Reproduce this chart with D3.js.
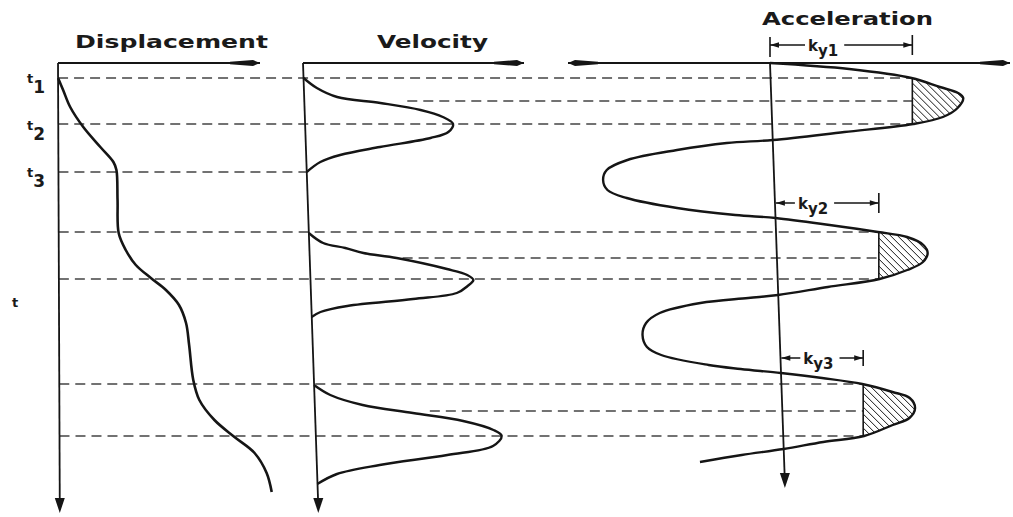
<!DOCTYPE html>
<html>
<head>
<meta charset="utf-8">
<script src="https://cdn.jsdelivr.net/npm/d3@7"></script>
<style>
body{margin:0;background:#fff}
svg{display:block}
text{font-family:"DejaVu Sans",sans-serif;font-weight:bold;fill:#1a1a1a}
</style>
</head>
<body>
<div id="chart"></div>
<script>
// time runs downwards, t = 0 on the top axis line
var dispT = [15,27,44,64,84,99,107,137,170,187,202,215,227,242,260,282,317,337,357,374,390,410,429]
var dispV = [0,5,12,25,42,55,58,59,60,67,77,92,107,120,127,130,134,140,155,175,195,207,212]

var velPulse = [1,1,1,1,1,1,1,1,1,1,1,1,1, 2,2,2,2,2,2,2,2,2,2,2,2,2,2, 3,3,3,3,3,3,3,3,3,3,3,3]
var velT = [15,25,34,40,47,54,61,69,75,84,92,99,109,
            170,180,185,190,195,206,212,217,223,230,236,243,249,254,
            322,332,342,350,358,367,373,383,392,402,411,421]
var velV = [0,13,33,76,116,138,148,143,125,74,34,14,0,
            0,14,36,54,87,137,157,163,157,146,102,36,9,0,
            0,16,48,98,148,178,186,177,131,63,20,0]

var accT = [0,6,15,24,30,35,45,54,61,69,77,80,87,97,107,117,127,135,145,152,155,162,169,174,182,190,199,207,216,224,232,235,240,250,260,272,284,292,302,306,310,315,321,329,335,345,355,362,373,379,386,392,399]
var accV = [0,79,141,169,187,192,186,171,141,72,0,-46,-96,-146,-167,-171,-167,-148,-98,-40,0,54,102,131,147,151,146,130,102,50,0,-30,-78,-119,-133,-137,-133,-119,-72,-40,0,41,81,111,128,133,127,110,81,40,0,-42,-84]

// dashed guide lines
var guideT = [15,38,61,109,169,195,216,321,348,373]
var guideFromVel = [null,103,null,null,null,93,null,null,115,null]
var guideLobe = [0,0,0,-1,1,1,1,2,2,2]

// hatched lobes beyond k_y
var lobeStart = [0,155,310]
var lobeEnd = [77,232,386]
var lobeMidT = [38,195,348]
var lobeHatch = [141,102,81]
var kyT = [-18,140,295]
var kySub = ["y1","y2","y3"]

var tLabelT = [15,62,109,239]
var tLabelSub = ["1","2","3",""]

var W = 1013, H = 517
var svg = d3.select("#chart").append("svg").attr("width",W).attr("height",H)

var y = d3.scaleLinear().domain([0,450]).range([63,513])
var xv = d3.scaleLinear().domain([-200,200]).range([-200,200])

var disp = {x0:58, lean:0.004}
var vel = {x0:303, lean:0.034}
var acc = {x0:770, lean:0.035}
function axisX(p,t){ return p.x0 + p.lean*t }
function hatchX(l){ return axisX(acc,lobeMidT[l]) + xv(lobeHatch[l]) }

var ink = "#151515"
var smooth = d3.curveCatmullRom.alpha(0.5)

function pts(ts,vs){ return ts.map(function(t,i){ return {t:t, v:vs[i]} }) }
function lineFor(p){
    return d3.line().curve(smooth)
        .x(function(d){ return axisX(p,d.t)+xv(d.v) })
        .y(function(d){ return y(d.t) })
}

// guides
var guides = svg.append("g")
for(var i in guideT){
    var t = guideT[i]
    var x1 = guideFromVel[i]==null ? axisX(disp,t) : axisX(vel,t)+xv(guideFromVel[i])
    var x2 = guideLobe[i] < 0 ? axisX(vel,t) : hatchX(guideLobe[i])
    guides.append("line").attr("x1",x1).attr("x2",x2).attr("y1",y(t)).attr("y2",y(t))
        .attr("stroke","#444").attr("stroke-width",1.4).attr("stroke-dasharray","10 6")
}

// hatching
var defs = svg.append("defs")
var accArea = d3.area().curve(smooth)
    .y(function(d){ return y(d.t) })
    .x0(function(d){ return axisX(acc,d.t) })
    .x1(function(d){ return axisX(acc,d.t)+xv(d.v) })
defs.append("clipPath").attr("id","accClip").append("path").attr("d",accArea(pts(accT,accV)))
for(var l=0;l<lobeHatch.length;l++){
    var hx = hatchX(l)
    var yTop = y(lobeStart[l]), yBot = y(lobeEnd[l])
    defs.append("clipPath").attr("id","lobe"+l).append("rect")
        .attr("x",hx).attr("y",yTop).attr("width",W-hx).attr("height",yBot-yTop)
    var g = svg.append("g").attr("clip-path","url(#lobe"+l+")")
        .append("g").attr("clip-path","url(#accClip)")
    for(var o=-90;o<120;o+=7){
        g.append("line").attr("x1",hx+o).attr("y1",yTop).attr("x2",hx+o+(yBot-yTop)).attr("y2",yBot)
            .attr("stroke",ink).attr("stroke-width",1)
    }
    // vertical edge of hatch
    var ia = guideLobe.indexOf(l), ib = guideLobe.lastIndexOf(l)
    svg.append("line").attr("x1",hx).attr("x2",hx).attr("y1",y(guideT[ia])).attr("y2",y(guideT[ib]))
        .attr("stroke",ink).attr("stroke-width",1.6)
}

// axes
function vArrow(p,tEnd){
    var xt = axisX(p,tEnd), yt = y(tEnd)
    svg.append("line").attr("x1",axisX(p,0)).attr("y1",y(0)).attr("x2",xt).attr("y2",yt-6)
        .attr("stroke",ink).attr("stroke-width",1.8)
    svg.append("path").attr("d","M"+xt+","+yt+"L"+(xt-5)+","+(yt-15)+"L"+(xt+5)+","+(yt-15)+"Z").attr("fill",ink)
}
function hHead(xt,yt,dir){
    var b = xt-dir*30, m = xt-dir*7
    return "M"+xt+","+yt+"L"+m+","+(yt-3)+"L"+b+","+(yt-1.3)+"L"+b+","+(yt+1.3)+"L"+m+","+(yt+3)+"Z"
}
function hArrow(xa,xb,both){
    svg.append("line").attr("x1",xa).attr("x2",xb).attr("y1",y(0)).attr("y2",y(0)).attr("stroke",ink).attr("stroke-width",1.8)
    svg.append("path").attr("d",hHead(xb,y(0),1)).attr("fill",ink)
    if(both) svg.append("path").attr("d",hHead(xa,y(0),-1)).attr("fill",ink)
}
vArrow(disp,450)
vArrow(vel,450)
vArrow(acc,425)
hArrow(axisX(disp,0),260,false)
hArrow(axisX(vel,0),524,false)
hArrow(568,1010,true)

// curves
svg.append("path").attr("d",lineFor(disp)(pts(dispT,dispV)))
    .attr("fill","none").attr("stroke",ink).attr("stroke-width",2.6)
var pulses = d3.groups(pts(velT,velV).map(function(d,i){ d.p = velPulse[i]; return d }), function(d){ return d.p })
pulses.forEach(function(pl){
    svg.append("path").attr("d",lineFor(vel)(pl[1]))
        .attr("fill","none").attr("stroke",ink).attr("stroke-width",2.4)
})
svg.append("path").attr("d",lineFor(acc)(pts(accT,accV)))
    .attr("fill","none").attr("stroke",ink).attr("stroke-width",2.4)

// k_y dimension marks
function smallHead(xt,yt,dir){
    return "M"+xt+","+yt+"L"+(xt-dir*9)+","+(yt-2.8)+"L"+(xt-dir*9)+","+(yt+2.8)+"Z"
}
for(var k=0;k<kyT.length;k++){
    var yk = y(kyT[k])
    var xa = axisX(acc,Math.max(kyT[k],0)) + (k==0?0:1)
    var xb = hatchX(k)
    var lab = svg.append("text").attr("y",yk+6).style("font-size","15px")
    lab.append("tspan").text("k")
    lab.append("tspan").attr("dy",5).style("font-size","15px").text(kySub[k])
    var bw = lab.node().getComputedTextLength()
    var lx = k==0 ? xa+38 : xa+22
    lab.attr("x",lx)
    var lx2 = lx+bw
    svg.append("line").attr("x1",xa).attr("x2",lx-3).attr("y1",yk).attr("y2",yk).attr("stroke",ink).attr("stroke-width",1.5)
    svg.append("line").attr("x1",lx2+6).attr("x2",xb).attr("y1",yk).attr("y2",yk).attr("stroke",ink).attr("stroke-width",1.5)
    svg.append("path").attr("d",smallHead(xa,yk,-1)).attr("fill",ink)
    svg.append("path").attr("d",smallHead(xb,yk,1)).attr("fill",ink)
    var th = k==2 ? 8 : 10
    svg.append("line").attr("x1",xb).attr("x2",xb).attr("y1",yk-th).attr("y2",yk+th).attr("stroke",ink).attr("stroke-width",1.6)
    if(k==0){
        svg.append("line").attr("x1",xa).attr("x2",xa).attr("y1",yk-th+2).attr("y2",yk+th+2).attr("stroke",ink).attr("stroke-width",1.6)
    }
}

// t labels on the left
for(var j in tLabelT){
    var ty = y(tLabelT[j])
    var tl = svg.append("text").attr("x",tLabelSub[j]=="" ? 12 : 27).attr("y",ty+5).style("font-size","13px")
    tl.append("tspan").text("t")
    if(tLabelSub[j]!="") tl.append("tspan").attr("dy",10).style("font-size","17px").text(tLabelSub[j])
}

// titles
svg.append("text").attr("x",75).attr("y",48).attr("textLength",193).attr("lengthAdjust","spacingAndGlyphs")
    .style("font-size","17px").text("Displacement")
svg.append("text").attr("x",377).attr("y",48).attr("textLength",111).attr("lengthAdjust","spacingAndGlyphs")
    .style("font-size","17px").text("Velocity")
svg.append("text").attr("x",762).attr("y",25).attr("textLength",171).attr("lengthAdjust","spacingAndGlyphs")
    .style("font-size","17px").text("Acceleration")
</script>
</body>
</html>
